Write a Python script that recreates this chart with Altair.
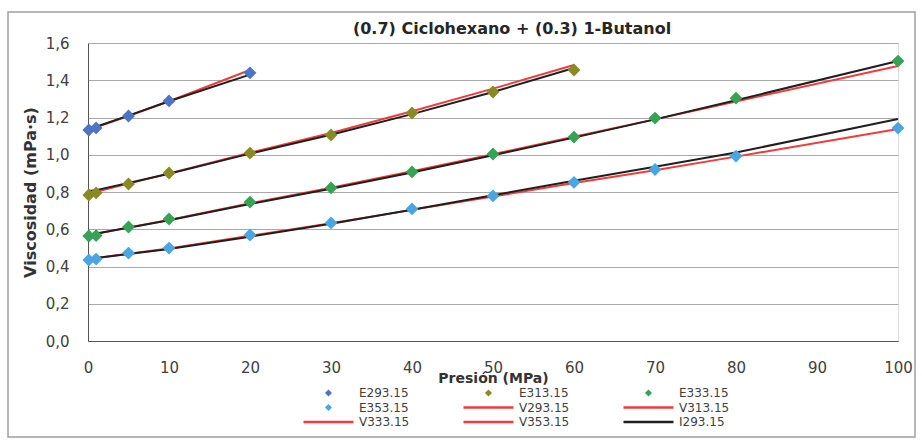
import altair as alt
import pandas as pd

# Pressures (MPa) for each isotherm
P_293 = [0.1, 1, 5, 10, 20]
P_313 = [0.1, 1, 5, 10, 20, 30, 40, 50, 60]
P_HIGH = [0.1, 1, 5, 10, 20, 30, 40, 50, 60, 70, 80, 100]

# Experimental viscosities (mPa·s)
E293 = [1.133, 1.144, 1.208, 1.289, 1.440]
E313 = [0.784, 0.795, 0.843, 0.902, 1.009, 1.106, 1.224, 1.337, 1.455]
E333 = [0.564, 0.566, 0.612, 0.655, 0.746, 0.822, 0.908, 1.004, 1.095, 1.197, 1.304, 1.503]
E353 = [0.435, 0.440, 0.472, 0.499, 0.569, 0.634, 0.709, 0.779, 0.852, 0.921, 0.993, 1.143]

# V model curves
V293 = [1.139, 1.147, 1.208, 1.287, 1.455]
V313 = [0.795, 0.801, 0.845, 0.900, 1.011, 1.117, 1.234, 1.355, 1.482]
V333 = [0.570, 0.575, 0.610, 0.650, 0.740, 0.823, 0.912, 1.003, 1.097, 1.190, 1.286, 1.477]
V353 = [0.443, 0.446, 0.468, 0.497, 0.565, 0.632, 0.704, 0.776, 0.848, 0.917, 0.990, 1.138]

# I model curves
I293 = [1.141, 1.150, 1.210, 1.287, 1.430]
I313 = [0.805, 0.810, 0.848, 0.898, 1.006, 1.107, 1.218, 1.337, 1.466]
I333 = [0.572, 0.577, 0.608, 0.648, 0.736, 0.818, 0.905, 0.997, 1.092, 1.190, 1.293, 1.503]
I353 = [0.443, 0.446, 0.467, 0.494, 0.560, 0.630, 0.705, 0.783, 0.860, 0.935, 1.012, 1.192]

E_NAMES = ["E293.15", "E313.15", "E333.15", "E353.15"]
E_COLORS = ["#4d74c4", "#8a8a24", "#35a353", "#4aa6e3"]
RED = "#f03c3c"
BLACK = "#1f1f1f"

# Legend entries, row by row in three columns
LEG_NAMES = ["E293.15", "E313.15", "E333.15",
             "E353.15", "V293.15", "V313.15",
             "V333.15", "V353.15", "I293.15"]
LEG_COLORS = ["#4d74c4", "#8a8a24", "#35a353",
              "#4aa6e3", RED, RED,
              RED, RED, BLACK]
LEG_SHAPES = ["diamond", "diamond", "diamond",
              "diamond", "stroke", "stroke",
              "stroke", "stroke", "stroke"]
LEG_SIZES = [12, 12, 12, 12, 2500, 2500, 2500, 2500, 2500]

FONT = "DejaVu Sans"


def long_table(series):
    rows = []
    for name, press, vals in series:
        for p, v in zip(press, vals):
            rows.append({"serie": name, "P": p, "eta": v})
    return pd.DataFrame(rows)


exp_df = long_table([("E293.15", P_293, E293), ("E313.15", P_313, E313),
                     ("E333.15", P_HIGH, E333), ("E353.15", P_HIGH, E353)])
v_df = long_table([("V293.15", P_293, V293), ("V313.15", P_313, V313),
                   ("V333.15", P_HIGH, V333), ("V353.15", P_HIGH, V353)])
i_df = long_table([("I293.15", P_293, I293), ("I313.15", P_313, I313),
                   ("I333.15", P_HIGH, I333), ("I353.15", P_HIGH, I353)])
leg_df = pd.DataFrame({"serie": LEG_NAMES})

x_enc = alt.X(
    "P:Q",
    scale=alt.Scale(domain=[0, 100], nice=False),
    axis=alt.Axis(
        title="Presión (MPa)", values=list(range(0, 101, 10)), grid=False,
        ticks=False, labelPadding=19, labelFontSize=15, labelFont=FONT,
        labelColor="#404040", titleFont=FONT, titleFontSize=14,
        titleFontWeight="bold", titleColor="#333333", titlePadding=-4,
        domainColor="#555555", labelFlush=False,
    ),
)
y_enc = alt.Y(
    "eta:Q",
    scale=alt.Scale(domain=[0, 1.6], nice=False),
    axis=alt.Axis(
        title="Viscosidad (mPa·s)", values=[0, 0.2, 0.4, 0.6, 0.8, 1.0, 1.2, 1.4, 1.6],
        labelExpr="replace(format(datum.value, '.1f'), '.', ',')",
        grid=True, gridColor="#a8a8a8", gridWidth=1, ticks=False,
        labelPadding=19, labelFontSize=15, labelFont=FONT, labelColor="#404040",
        titleFont=FONT, titleFontSize=16, titleFontWeight="bold",
        titleColor="#333333", titlePadding=7, domainColor="#555555",
    ),
)

red_lines = alt.Chart(v_df).mark_line(strokeWidth=2, color=RED).encode(
    x=x_enc, y=y_enc, detail="serie:N", order="P:Q"
)
black_lines = alt.Chart(i_df).mark_line(strokeWidth=2, color=BLACK).encode(
    x=x_enc, y=y_enc, detail="serie:N", order="P:Q"
)
points = alt.Chart(exp_df).mark_point(shape="diamond", filled=True, size=165, opacity=1).encode(
    x=x_enc, y=y_enc,
    color=alt.Color("serie:N", scale=alt.Scale(domain=E_NAMES, range=E_COLORS), legend=None),
)

legend = alt.Legend(
    orient="none", legendX=214, legendY=343, columns=3, columnPadding=52,
    direction="horizontal", rowPadding=0.5, clipHeight=14, labelFont=FONT,
    labelFontSize=12, labelColor="#404040", labelOffset=4, symbolOpacity=1,
    symbolStrokeWidth=2.5, padding=0,
)
legend_layer = alt.Chart(leg_df).mark_point(filled=True, opacity=0).encode(
    fill=alt.Fill("serie:N", scale=alt.Scale(domain=LEG_NAMES, range=LEG_COLORS), legend=legend, title=None),
    stroke=alt.Stroke("serie:N", scale=alt.Scale(domain=LEG_NAMES, range=LEG_COLORS), legend=legend, title=None),
    shape=alt.Shape("serie:N", scale=alt.Scale(domain=LEG_NAMES, range=LEG_SHAPES), legend=legend, title=None),
    size=alt.Size("serie:N", scale=alt.Scale(type="ordinal", domain=LEG_NAMES, range=LEG_SIZES), legend=legend, title=None),
)

# Light frame around the whole figure
frame = alt.Chart(pd.DataFrame({"k": [0]})).mark_rect(
    filled=False, stroke="#a0a0a0", strokeWidth=1.5
).encode(
    x=alt.value(-80), x2=alt.value(827), y=alt.value(-31), y2=alt.value(394)
)

chart = alt.layer(frame, red_lines, black_lines, points, legend_layer).properties(
    width=810,
    height=298,
    padding={"left": 88, "top": 43, "right": 24, "bottom": 99},
    autosize=alt.AutoSizeParams(type="none"),
    title=alt.TitleParams(
        "(0.7) Ciclohexano + (0.3) 1-Butanol", font=FONT, fontSize=16,
        fontWeight="bold", color="#262626", anchor="middle", frame="group",
        dx=19, offset=-39, baseline="alphabetic",
    ),
).configure_view(stroke="#555555", strokeWidth=1.2).configure(background="white")

chart.save("out.html", embed_options={"renderer": "svg", "actions": False})
